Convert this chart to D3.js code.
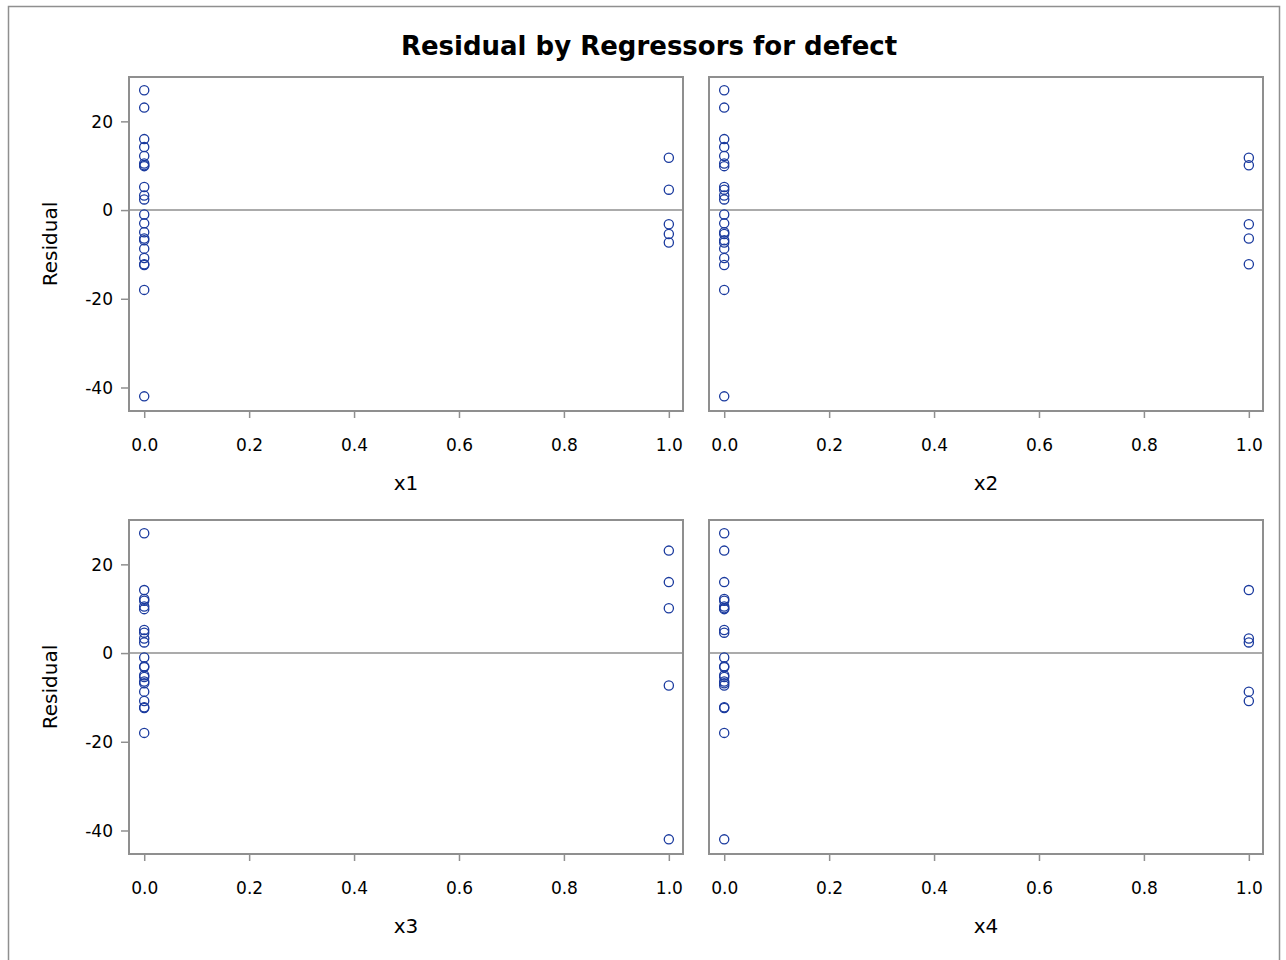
<!DOCTYPE html>
<html>
<head>
<meta charset="utf-8">
<script src="https://cdn.jsdelivr.net/npm/d3@7"></script>
<style>
  body { margin: 0; background: #fff; }
  svg text { font-family: "DejaVu Sans", "Noto Sans", sans-serif; fill: #000; }
</style>
</head>
<body>
<div id="chart"></div>
<script>
// residuals and the regressor values for each observation
const residual = [27.0, 23.1, 16.0, 14.2, 12.2, 11.8, 10.5, 10.1, 9.9, 5.2, 4.6, 3.3, 2.4,
  -1.0, -3.0, -3.2, -5.0, -5.4, -6.4, -6.8, -7.3, -8.7, -10.8, -12.2, -12.4, -18.0, -42.0];
const x1 = [0, 0, 0, 0, 0, 1, 0, 0, 0, 0, 1, 0, 0, 0, 0, 1, 0, 1, 0, 0, 1, 0, 0, 0, 0, 0, 0];
const x2 = [0, 0, 0, 0, 0, 1, 0, 1, 0, 0, 0, 0, 0, 0, 0, 1, 0, 0, 1, 0, 0, 0, 0, 1, 0, 0, 0];
const x3 = [0, 1, 1, 0, 0, 0, 0, 1, 0, 0, 0, 0, 0, 0, 0, 0, 0, 0, 0, 0, 1, 0, 0, 0, 0, 0, 1];
const x4 = [0, 0, 0, 1, 0, 0, 0, 0, 0, 0, 0, 1, 1, 0, 0, 0, 0, 0, 0, 0, 0, 1, 1, 0, 0, 0, 0];

const panels = [
  { name: "x1", values: x1 },
  { name: "x2", values: x2 },
  { name: "x3", values: x3 },
  { name: "x4", values: x4 }
];
const xTicks = [0, 0.2, 0.4, 0.6, 0.8, 1.0];
const yTicks = [-40, -20, 0, 20];

const W = 1286, H = 960;
const svg = d3.select("#chart").append("svg")
  .attr("width", W).attr("height", H);

// outer border
svg.append("rect")
  .attr("x", 8.5).attr("y", 6.5)
  .attr("width", 1271).attr("height", 1000)
  .attr("fill", "none").attr("stroke", "#8f8f8f").attr("stroke-width", 1.5);

svg.append("text")
  .attr("x", 649).attr("y", 55)
  .attr("text-anchor", "middle")
  .attr("font-size", 26).attr("font-weight", "bold")
  .text("Residual by Regressors for defect");

const pw = 554, ph = 334;
const colX = [129, 709], rowY = [77, 520];

const x = d3.scaleLinear().domain([-0.029, 1.027]).range([0, pw]);
const y = d3.scaleLinear().domain([-45.3, 30]).range([ph, 0]);

const gray = "#8f8f8f";
const blue = "#1a3a9e";

panels.forEach((p, i) => {
  const col = i % 2, row = Math.floor(i / 2);
  const g = svg.append("g")
    .attr("transform", `translate(${colX[col]},${rowY[row]})`);

  // x axis
  const xa = g.append("g")
    .attr("transform", `translate(0,${ph})`)
    .call(d3.axisBottom(x).tickValues(xTicks).tickFormat(d3.format(".1f")).tickSize(7).tickPadding(21));
  xa.select(".domain").remove();
  xa.selectAll("line").attr("stroke", gray).attr("stroke-width", 1.5);
  xa.selectAll("text").attr("font-size", 17).attr("fill", "#000");

  // y axis only on left column
  if (col === 0) {
    const ya = g.append("g")
      .call(d3.axisLeft(y).tickValues(yTicks).tickFormat(d => String(d)).tickSize(8).tickPadding(8));
    ya.select(".domain").remove();
    ya.selectAll("line").attr("stroke", gray).attr("stroke-width", 1.5);
    ya.selectAll("text").attr("font-size", 17).attr("fill", "#000").attr("dy", "0.34em");

    g.append("text")
      .attr("transform", `translate(-72,${ph / 2}) rotate(-90)`)
      .attr("text-anchor", "middle")
      .attr("font-size", 20)
      .text("Residual");
  }

  g.append("text")
    .attr("x", pw / 2).attr("y", ph + 79)
    .attr("text-anchor", "middle")
    .attr("font-size", 20)
    .text(p.name);

  // reference line at zero
  g.append("line")
    .attr("x1", 0).attr("x2", pw)
    .attr("y1", y(0)).attr("y2", y(0))
    .attr("stroke", gray).attr("stroke-width", 1.5);

  g.selectAll("circle")
    .data(residual.map((r, j) => ({ r, v: p.values[j] })))
    .enter()
    .append("circle")
    .attr("cx", d => x(d.v))
    .attr("cy", d => y(d.r))
    .attr("r", 4.6)
    .attr("fill", "none")
    .attr("stroke", blue)
    .attr("stroke-width", 1.3);

  // frame
  g.append("rect")
    .attr("x", 0).attr("y", 0)
    .attr("width", pw).attr("height", ph)
    .attr("fill", "none").attr("stroke", gray).attr("stroke-width", 2);
});
</script>
</body>
</html>
